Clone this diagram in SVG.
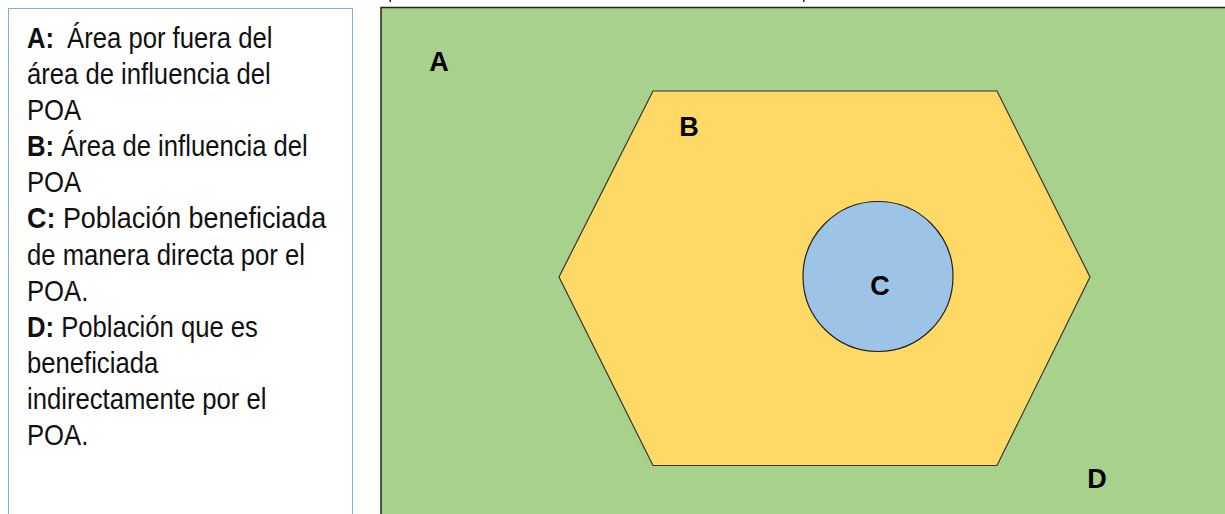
<svg xmlns="http://www.w3.org/2000/svg" width="1225" height="514" viewBox="0 0 1225 514">
<style>
.leg{font-family:"Liberation Sans",Arial,sans-serif;font-size:29.5px;fill:#111}
.b{font-weight:bold}
.lab{font-family:"Liberation Sans",Arial,sans-serif;font-size:27px;font-weight:bold;fill:#000;text-anchor:middle}
</style>
<rect x="0" y="0" width="1225" height="514" fill="#ffffff"/>
<g id="marks">
<rect x="389.5" y="0" width="1.5" height="2" fill="#222"/>
<rect x="803" y="0" width="1.5" height="2" fill="#222"/>
</g>
<g id="legend">
<rect x="8.5" y="8.5" width="344" height="520" fill="#ffffff" stroke="#7FAFDD" stroke-width="1"/>
<g transform="translate(27,0) scale(0.87,1)" class="leg">
<text x="0" y="48"><tspan class="b">A:</tspan><tspan dx="15">Área por fuera del</tspan></text>
<text x="0" y="84.1">área de influencia del</text>
<text x="0" y="120.2">POA</text>
<text x="0" y="156.3"><tspan class="b">B:</tspan> Área de influencia del</text>
<text x="0" y="192.4">POA</text>
<text x="0" y="228.5" textLength="344" lengthAdjust="spacingAndGlyphs"><tspan class="b">C:</tspan> Población beneficiada</text>
<text x="0" y="264.6">de manera directa por el</text>
<text x="0" y="300.7">POA.</text>
<text x="0" y="336.8"><tspan class="b">D:</tspan> Población que es</text>
<text x="0" y="372.9">beneficiada</text>
<text x="0" y="409">indirectamente por el</text>
<text x="0" y="445.1">POA.</text>
</g>
</g>
<g id="areaA">
<rect x="381" y="7.5" width="860" height="520" fill="#A9D18E" stroke="#222" stroke-width="1.5"/>
<text class="lab" x="439" y="70.5">A</text>
</g>
<g id="areaB">
<polygon points="653,91 997,91 1090,277 997,465.5 653,465.5 559,277" fill="#FFD966" stroke="#333" stroke-width="1.2"/>
<text class="lab" x="689" y="136">B</text>
</g>
<g id="areaC">
<circle cx="878" cy="276.5" r="75" fill="#9DC3E6" stroke="#222" stroke-width="1.2"/>
<text class="lab" x="880" y="295">C</text>
</g>
<g id="areaD">
<text class="lab" x="1097" y="488">D</text>
</g>
<g id="connectors"></g>
</svg>
